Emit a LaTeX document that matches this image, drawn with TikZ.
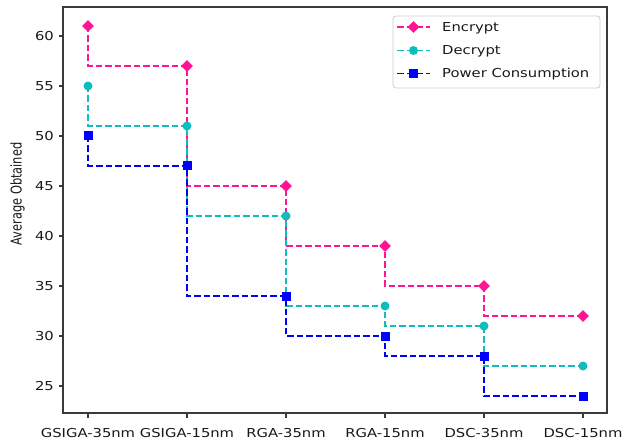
\documentclass[tikz,border=0pt]{standalone}
\usepackage{fontspec}
\setmainfont[FakeStretch=1.2]{DejaVu Sans}
\newfontfamily\ylabfont{DejaVu Sans}
\usetikzlibrary{shapes.geometric}
\definecolor{encc}{HTML}{FF1493}
\definecolor{decc}{HTML}{10BDBD}
\definecolor{powc}{HTML}{0000FF}
\definecolor{axc}{HTML}{3A3A3A}
\begin{document}
\begin{tikzpicture}[x=1pt,y=-1pt,
  ser/.style={dash pattern=on 6.5pt off 3pt, line width=1.9pt},
  dmark/.style={diamond, fill=#1, inner sep=0pt, minimum width=12pt, minimum height=12pt},
  cmark/.style={circle, fill=#1, inner sep=0pt, minimum size=9pt},
  smark/.style={rectangle, fill=#1, inner sep=0pt, minimum size=9pt},
  ticklab/.style={font=\fontsize{12.3}{14}\selectfont, text=black!90, inner sep=0pt},
  axline/.style={draw=axc, line width=1.1pt}
]
\useasboundingbox[fill=white] (0,0) rectangle (624,441);

% frame
\draw[axline] (63,7) rectangle (607,413);

% y ticks
\foreach \v in {25,30,...,60}{
  \draw[axline] (63,{636-10*\v}) -- (58.5,{636-10*\v});
  \node[ticklab, anchor=base east] (yt\v) at (54,{636-10*\v+4.5}) {\v};
}
% x ticks
\foreach \lab [count=\i from 0] in {GSIGA-35nm,GSIGA-15nm,RGA-35nm,RGA-15nm,DSC-35nm,DSC-15nm}{
  \draw[axline] ({88+99*\i},413) -- ({88+99*\i},417.5);
  \node[ticklab, anchor=base] (xt\i) at ({88+99*\i},437) {\lab};
}
% y label
\node[rotate=90, anchor=base, inner sep=0pt, text=black!90,
      font=\ylabfont\fontsize{11.4}{13}\selectfont] (ylab) at (21.5,194) {\scalebox{1}[1.3]{Average Obtained}};

% data coordinates
\foreach \s/\vals in {E/{61,57,45,39,35,32}, D/{55,51,42,33,31,27}, P/{50,47,34,30,28,24}}{
  \foreach \v [count=\i from 0] in \vals {
    \coordinate (\s\i) at ({88+99*\i},{636-10*\v});
  }
}

% Encrypt
\draw[ser, encc] (E0) |- (E1) |- (E2) |- (E3) |- (E4) |- (E5);
\foreach \i in {0,...,5} \node[dmark=encc] (me\i) at (E\i) {};
% Decrypt
\draw[ser, decc] (D0) |- (D1) |- (D2) |- (D3) |- (D4) |- (D5);
\foreach \i in {0,...,5} \node[cmark=decc] (md\i) at (D\i) {};
% Power
\draw[ser, powc] (P0) |- (P1) |- (P2) |- (P3) |- (P4) |- (P5);
\foreach \i in {0,...,5} \node[smark=powc] (mp\i) at (P\i) {};

% legend
\draw[black!20, line width=0.8pt, fill=white, fill opacity=0.8, rounded corners=3pt] (393,16) rectangle (600,88);
\foreach \c/\m/\t/\y [count=\k] in {encc/dmark/Encrypt/27, decc/cmark/Decrypt/50.5, powc/smark/Power Consumption/73.5}{
  \coordinate (la\k) at (397,\y);
  \coordinate (lb\k) at (430,\y);
  \draw[ser, \c] (la\k) -- (lb\k);
  \node[\m=\c] (lm\k) at (413.5,\y) {};
  \node[ticklab, anchor=base west] (lt\k) at (442,\y+4.5) {\t};
}
\end{tikzpicture}
\end{document}
